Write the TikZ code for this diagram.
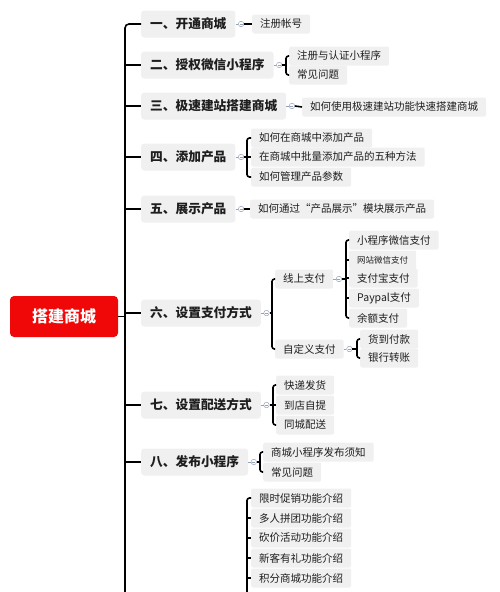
\documentclass[tikz,border=0pt]{standalone}
\usepackage{fontspec}
\setmainfont{Noto Sans CJK SC}
\definecolor{rootred}{RGB}{240,8,8}
\definecolor{boxgray}{RGB}{240,240,240}
\definecolor{foldgray}{RGB}{150,162,182}
\definecolor{txt}{RGB}{30,30,30}
\begin{document}
\begin{tikzpicture}[x=1pt,y=-1pt,
  root/.style={fill=rootred, rounded corners=4pt, text=white, font=\fontsize{16}{18}\selectfont\bfseries, minimum width=108pt, minimum height=41pt, inner sep=0pt},
  lone/.style={fill=boxgray, rounded corners=3pt, text=txt, font=\fontsize{12.7}{14}\selectfont\bfseries, minimum height=27pt, inner xsep=9pt, inner ysep=0pt, anchor=west},
  ltwo/.style={fill=boxgray, rounded corners=2pt, text=txt, font=\fontsize{10.5}{12}\selectfont, minimum height=19pt, inner xsep=8pt, inner ysep=0pt, anchor=west},
  link/.style={line width=1.6pt, black},
  brk/.style={line width=1.6pt, black, rounded corners=2.5pt},
  faint/.style={line width=0.5pt, foldgray},
  fold/.style={circle, draw=foldgray, fill=white, line width=0.5pt, minimum size=5.5pt, inner sep=0pt, anchor=west,
    path picture={\draw[foldgray, line width=0.5pt] ([xshift=-1.5pt]path picture bounding box.center) -- ([xshift=1.5pt]path picture bounding box.center);}},
]
\useasboundingbox (0,0) rectangle (500,592);

% root
\node[root] (root) at (64,316.5) {搭建商城};
\coordinate (T) at (125,316.5);

% level 1
\node[lone] (a1) at (141,24) {一、开通商城};
\node[lone] (a2) at (141,65) {二、授权微信小程序};
\node[lone] (a3) at (141,106) {三、极速建站搭建商城};
\node[lone] (a4) at (141,157) {四、添加产品};
\node[lone] (a5) at (141,209) {五、展示产品};
\node[lone] (a6) at (141,313) {六、设置支付方式};
\node[lone] (a7) at (141,405) {七、设置配送方式};
\node[lone] (a8) at (141,462) {八、发布小程序};

% trunk
\draw[brk, rounded corners=4pt] (a1.west) -- (a1.west -| T) -- (125,592);
\draw[link] (root.east) -- (T);
\foreach \n in {a2,a3,a4,a5,a6,a7,a8} \draw[link] (\n.west -| T) -- (\n.west);

% fold circles
\foreach \n in {1,...,8} {
  \node[fold] (f\n) at ([xshift=2.5pt]a\n.east) {};
  \draw[faint] (a\n.east) -- (f\n.west);
}

% 1
\node[ltwo] (c11) at (252,24) {注册帐号};
\draw[link] (f1.east) -- (c11.west);

% 2
\coordinate (b2) at (286,65);
\node[ltwo] (c21) at (289,56) {注册与认证小程序};
\node[ltwo] (c22) at (289,75) {常见问题};
\draw[link] (f2.east) -- (b2);
\draw[brk] (c21.west) -- (c21.west -| b2) -- (c22.west -| b2) -- (c22.west);

% 3
\node[ltwo] (c31) at (302,107) {如何使用极速建站功能快速搭建商城};
\draw[link] (f3.east) -- (c31.west);

% 4
\coordinate (b4) at (247,157);
\node[ltwo] (c41) at (251,138) {如何在商城中添加产品};
\node[ltwo] (c42) at (251,157) {在商城中批量添加产品的五种方法};
\node[ltwo] (c43) at (251,177) {如何管理产品参数};
\draw[link] (f4.east) -- (b4);
\draw[brk] (c41.west) -- (c41.west -| b4) -- (c43.west -| b4) -- (c43.west);
\draw[link] (c42.west -| b4) -- (c42.west);

% 5
\node[ltwo] (c51) at (250,209) {如何通过“产品展示”模块展示产品};
\draw[link] (f5.east) -- (c51.west);

% 6
\coordinate (b6) at (272,313);
\node[ltwo] (c61) at (275,279) {线上支付};
\node[ltwo] (c62) at (275,349) {自定义支付};
\draw[link] (f6.east) -- (b6);
\draw[brk] (c61.west) -- (c61.west -| b6) -- (c62.west -| b6) -- (c62.west);

\node[fold] (f61) at ([xshift=2.5pt]c61.east) {};
\draw[faint] (c61.east) -- (f61.west);
\coordinate (b61) at (346,279);
\node[ltwo] (d1) at (349,240) {小程序微信支付};
\node[ltwo, font=\fontsize{8.5}{10}\selectfont] (d2) at (349,260) {网站微信支付};
\node[ltwo] (d3) at (349,278) {支付宝支付};
\node[ltwo] (d4) at (349,298) {Paypal支付};
\node[ltwo] (d5) at (349,318) {余额支付};
\draw[link] (f61.east) -- (b61);
\draw[brk] (d1.west) -- (d1.west -| b61) -- (d5.west -| b61) -- (d5.west);
\foreach \n in {d2,d3,d4} \draw[link] (\n.west -| b61) -- (\n.west);

\node[fold] (f62) at ([xshift=2.5pt]c62.east) {};
\draw[faint] (c62.east) -- (f62.west);
\coordinate (b62) at (357,349);
\node[ltwo] (e1) at (360,339) {货到付款};
\node[ltwo] (e2) at (360,358) {银行转账};
\draw[link] (f62.east) -- (b62);
\draw[brk] (e1.west) -- (e1.west -| b62) -- (e2.west -| b62) -- (e2.west);

% 7
\coordinate (b7) at (273,405);
\node[ltwo] (c71) at (276,385) {快递发货};
\node[ltwo] (c72) at (276,405) {到店自提};
\node[ltwo] (c73) at (276,425) {同城配送};
\draw[link] (f7.east) -- (b7);
\draw[brk] (c71.west) -- (c71.west -| b7) -- (c73.west -| b7) -- (c73.west);
\draw[link] (c72.west -| b7) -- (c72.west);

% 8
\coordinate (b8) at (260,462);
\node[ltwo] (c81) at (263,452) {商城小程序发布须知};
\node[ltwo] (c82) at (263,472) {常见问题};
\draw[link] (f8.east) -- (b8);
\draw[brk] (c81.west) -- (c81.west -| b8) -- (c82.west -| b8) -- (c82.west);

% 9 (parent below the visible area)
\coordinate (b9) at (247,592);
\node[ltwo] (g1) at (251,498) {限时促销功能介绍};
\node[ltwo] (g2) at (251,518) {多人拼团功能介绍};
\node[ltwo] (g3) at (251,538) {砍价活动功能介绍};
\node[ltwo] (g4) at (251,558) {新客有礼功能介绍};
\node[ltwo] (g5) at (251,578) {积分商城功能介绍};
\draw[brk] (g1.west) -- (g1.west -| b9) -- (b9);
\foreach \n in {g2,g3,g4,g5} \draw[link] (\n.west -| b9) -- (\n.west);
\end{tikzpicture}
\end{document}
